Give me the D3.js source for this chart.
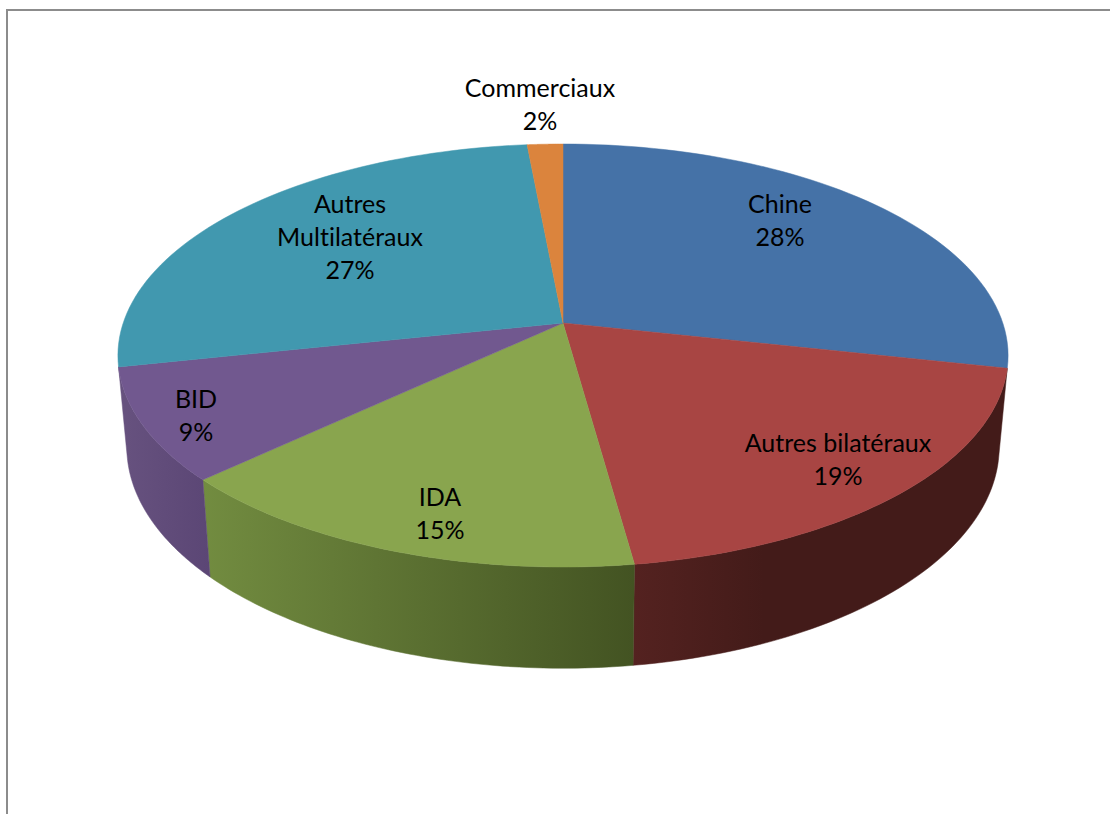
<!DOCTYPE html>
<html>
<head>
<meta charset="utf-8">
<script src="https://cdn.jsdelivr.net/npm/d3@7"></script>
<style>
    html, body { margin: 0; padding: 0; background: #fff; overflow: hidden; }
    svg { display: block; }
</style>
</head>
<body>
<script>
// data (labels show the rounded percent)
const categories = ['Chine', 'Autres bilatéraux', 'IDA', 'BID', 'Autres Multilatéraux', 'Commerciaux'];
const values = [28.4, 19.4, 15.3, 8.6, 26.8, 1.5];
const labelLines = [['Chine'], ['Autres bilatéraux'], ['IDA'], ['BID'], ['Autres', 'Multilatéraux'], ['Commerciaux']];

const topColors = ['#4572a7', '#a84543', '#89a54e', '#71588f', '#4198af', '#db843d'];
// wall shading, left to right; the red one reaches its dark tone early
const wallLeft = [null, '#542220', '#728c40', '#67527f', null, null];
const wallRight = [null, '#431b19', '#435322', '#5b4675', null, null];
const wallStop = [null, 0.35, 1, 1, null, null];
// hand placed label centres, like in the original chart
const labelX = [780, 838, 440, 196, 350, 540];
const labelY = [221, 460, 514, 416, 238, 105];

const width = 1110;
const height = 814;
const lineHeight = 33;

// perspective of the disc: far side is squeezed, near side stretched
const cx = 563, cy = 323;
const rx = 439.8, ry = 206.5, k = 0.1537;
// bottom rim of the wall relative to the top rim
const baseY = 413, baseSx = 0.98, baseSy = 1.046;

const rimTop = (a) => {
    const w = 1 + k * Math.cos(a);
    return [cx + rx * Math.sin(a) / w, cy - ry * Math.cos(a) / w];
};
const rimBase = (a) => {
    const p = rimTop(a);
    return [cx + (p[0] - cx) * baseSx, baseY + (p[1] - cy) * baseSy];
};
const angleSteps = (a0, a1) => d3.range(0, 61).map((i) => a0 + (a1 - a0) * i / 60);

const pie = d3.pie().sort(null).value((d) => d);
const slices = pie(values);
const line = d3.line();

const svg = d3.select('body').append('svg')
    .attr('width', width)
    .attr('height', height);

// frame of the pasted chart
svg.append('path')
    .attr('d', `M7,${height}V10H${width}`)
    .attr('fill', 'none')
    .attr('stroke', '#8c8c8c')
    .attr('stroke-width', 2);

const defs = svg.append('defs');

/**
 *  side wall, only for slices that face the viewer
 */
slices.forEach((s, i) => {
    if (Math.cos((s.startAngle + s.endAngle) / 2) >= 0) return;
    const steps = angleSteps(s.startAngle, s.endAngle);
    const pts = steps.map(rimTop).concat(steps.slice().reverse().map(rimBase));
    const xs = pts.map((p) => p[0]);

    const grad = defs.append('linearGradient')
        .attr('id', `wall${i}`)
        .attr('gradientUnits', 'userSpaceOnUse')
        .attr('x1', d3.min(xs)).attr('x2', d3.max(xs))
        .attr('y1', 0).attr('y2', 0);
    grad.append('stop').attr('offset', 0).attr('stop-color', wallLeft[i]);
    grad.append('stop').attr('offset', wallStop[i]).attr('stop-color', wallRight[i]);

    svg.append('path')
        .attr('class', 'wall')
        .attr('d', line(pts) + 'Z')
        .attr('fill', `url(#wall${i})`)
        .attr('stroke', `url(#wall${i})`)
        .attr('stroke-width', 0.5);
});

/**
 *  top face
 */
svg.selectAll('path.slice')
    .data(slices)
    .enter()
    .append('path')
    .attr('class', 'slice')
    .attr('d', (d) => line([[cx, cy]].concat(angleSteps(d.startAngle, d.endAngle).map(rimTop))) + 'Z')
    .attr('fill', (d, i) => topColors[i])
    .attr('stroke', (d, i) => topColors[i])
    .attr('stroke-width', 0.5);

/**
 *  labels: name, then percent
 */
const total = d3.sum(values);
const labels = svg.selectAll('text.label')
    .data(categories)
    .enter()
    .append('text')
    .attr('class', 'label')
    .attr('text-anchor', 'middle')
    .style('font-family', 'Lato, sans-serif')
    .style('font-size', '25px')
    .style('font-variant-ligatures', 'none')
    .attr('fill', '#000');

labels.each(function (d, i) {
    const lines = labelLines[i].concat(d3.format('.0f')(values[i] / total * 100) + '%');
    const top = labelY[i] - (lines.length - 1) * lineHeight / 2;
    d3.select(this).selectAll('tspan')
        .data(lines)
        .enter()
        .append('tspan')
        .attr('x', labelX[i])
        .attr('y', (l, j) => top + j * lineHeight + 8)
        .text((l) => l);
});
</script>
</body>
</html>
